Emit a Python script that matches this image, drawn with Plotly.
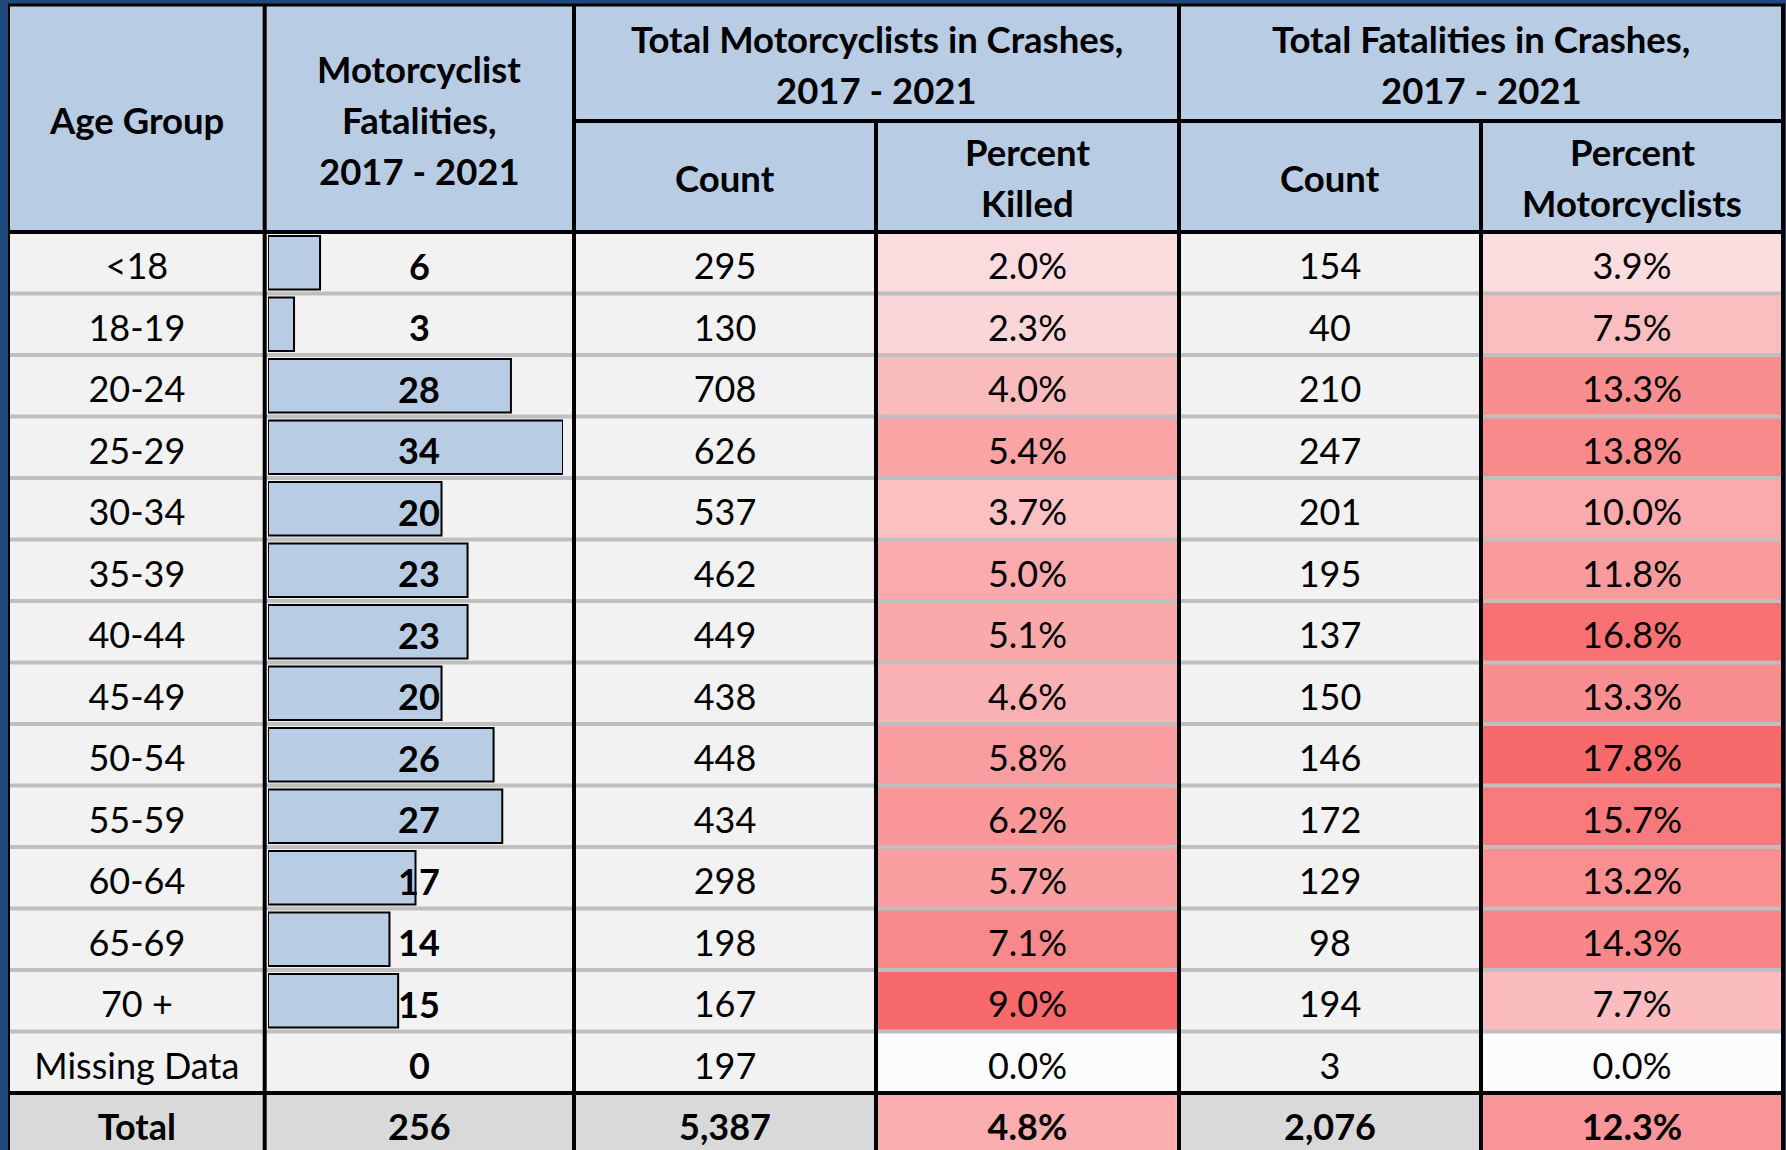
import plotly.graph_objects as go

# ---------------- data ----------------
age_groups = ["<18", "18-19", "20-24", "25-29", "30-34", "35-39", "40-44",
              "45-49", "50-54", "55-59", "60-64", "65-69", "70 +", "Missing Data"]
moto_fatalities = [6, 3, 28, 34, 20, 23, 23, 20, 26, 27, 17, 14, 15, 0]
moto_in_crashes = [295, 130, 708, 626, 537, 462, 449, 438, 448, 434, 298, 198, 167, 197]
pct_killed = [2.0, 2.3, 4.0, 5.4, 3.7, 5.0, 5.1, 4.6, 5.8, 6.2, 5.7, 7.1, 9.0, 0.0]
fatal_in_crashes = [154, 40, 210, 247, 201, 195, 137, 150, 146, 172, 129, 98, 194, 3]
pct_motorcyclists = [3.9, 7.5, 13.3, 13.8, 10.0, 11.8, 16.8, 13.3, 17.8, 15.7, 13.2, 14.3, 7.7, 0.0]

total_label = "Total"
total_moto_fatalities = 256
total_moto_in_crashes = 5387
total_pct_killed = 4.8
total_fatal_in_crashes = 2076
total_pct_motorcyclists = 12.3

header_age = ["Age Group"]
header_fatal = ["Motorcyclist", "Fatalities,", "2017 - 2021"]
header_group1 = ["Total Motorcyclists in Crashes,", "2017 - 2021"]
header_group2 = ["Total Fatalities in Crashes,", "2017 - 2021"]
header_count = ["Count"]
header_pct1 = ["Percent", "Killed"]
header_pct2 = ["Percent", "Motorcyclists"]

# ---------------- style / layout ----------------
W, H = 1786, 1150
FONT = "Lato"
FS = 36
FS_HEAD = 36.5
DARK_BLUE = "#1F497D"
HEAD_FILL = "#B8CCE4"
BODY_FILL = "#F2F2F2"
TOTAL_FILL = "#D9D9D9"
GRID_GREY = "#BFBFBF"
HEAT_SCALE = [[0, "#FCFCFF"], [1, "#F8696B"]]

edges = [9, 264.7, 574, 876, 1179, 1481, 1783]
top = 5
mid_head = 121
head_bot = 232
n = len(age_groups)
row_h = (1093 - head_bot) / n
total_top = head_bot + n * row_h
total_bot = total_top + row_h
text_dy = 7.5
ann_dy = 3

centers_x = [(edges[i] + edges[i + 1]) / 2 for i in range(6)]
row_c = [head_bot + (i + 0.5) * row_h for i in range(n)]
total_c = total_top + row_h / 2

fig = go.Figure()

# heat-map columns (include total row)
for col, vals, tot in [(3, pct_killed, total_pct_killed), (5, pct_motorcyclists, total_pct_motorcyclists)]:
    allv = vals + [tot]
    fig.add_trace(go.Heatmap(
        z=[[v] for v in allv],
        x0=centers_x[col], dx=edges[col + 1] - edges[col],
        y0=head_bot + row_h / 2, dy=row_h,
        zmin=0, zmax=max(allv), colorscale=HEAT_SCALE,
        showscale=False, hoverinfo="skip"))

# data bars
fig.add_trace(go.Bar(
    x=[v if v > 0 else None for v in moto_fatalities], y=row_c,
    orientation="h", width=row_h - 8,
    marker=dict(color=HEAD_FILL, line=dict(color="black", width=2)),
    xaxis="x2", yaxis="y", hoverinfo="skip", showlegend=False))


def fmt_int(v):
    return f"{v:,}"


def fmt_pct(v):
    return f"{v:.1f}%"


def text_trace(x, ys, texts, bold=False):
    return go.Scatter(
        x=[x] * len(ys), y=[y + text_dy for y in ys], mode="text",
        text=[f"<b>{t}</b>" if bold else t for t in texts],
        textposition="middle center",
        textfont=dict(family=FONT, size=FS, color="black"),
        hoverinfo="skip", showlegend=False, xaxis="x", yaxis="y")


fig.add_trace(text_trace(centers_x[0], row_c, age_groups))
fig.add_trace(text_trace(centers_x[2], row_c, [fmt_int(v) for v in moto_in_crashes]))
fig.add_trace(text_trace(centers_x[3], row_c, [fmt_pct(v) for v in pct_killed]))
fig.add_trace(text_trace(centers_x[4], row_c, [fmt_int(v) for v in fatal_in_crashes]))
fig.add_trace(text_trace(centers_x[5], row_c, [fmt_pct(v) for v in pct_motorcyclists]))

totals = [total_label, fmt_int(total_moto_fatalities), fmt_int(total_moto_in_crashes),
          fmt_pct(total_pct_killed), fmt_int(total_fatal_in_crashes), fmt_pct(total_pct_motorcyclists)]
for i, t in enumerate(totals):
    fig.add_trace(text_trace(centers_x[i], [total_c], [t], bold=True))

# ---------------- shapes ----------------
shapes = []


def rect(x0, x1, y0, y1, color):
    shapes.append(dict(type="rect", xref="x", yref="y", x0=x0, x1=x1, y0=y0, y1=y1,
                       fillcolor=color, line=dict(width=0), layer="below"))


def line(x0, x1, y0, y1, color, w):
    shapes.append(dict(type="line", xref="x", yref="y", x0=x0, x1=x1, y0=y0, y1=y1,
                       line=dict(color=color, width=w), layer="above"))


rect(edges[0], edges[-1], top, head_bot, HEAD_FILL)
rect(edges[0], edges[-1], head_bot, total_top, BODY_FILL)
rect(edges[0], edges[-1], total_top, total_bot + 20, TOTAL_FILL)

for k in range(1, n):
    y = head_bot + k * row_h
    line(edges[0], edges[-1], y, y, GRID_GREY, 4)

line(edges[0], edges[0], top, H + 20, "black", 2)
for i in [1, 2, 4, 6]:
    line(edges[i], edges[i], top, H + 20, "black", 4)
for i in [3, 5]:
    line(edges[i], edges[i], mid_head, H + 20, "black", 4)
line(edges[0] - 1, edges[-1] + 2, top, top, "black", 3)
line(edges[2], edges[-1], mid_head, mid_head, "black", 4)
line(edges[0], edges[-1] + 2, head_bot, head_bot, "black", 4)
line(edges[0], edges[-1] + 2, total_top, total_top, "black", 4)

# ---------------- annotations ----------------
annotations = []
line_gap = 51


def header(x, yc, lines):
    y0 = yc - (len(lines) - 1) * line_gap / 2
    for j, t in enumerate(lines):
        annotations.append(dict(
            x=x, y=y0 + j * line_gap + 1, xref="x", yref="y", text=t, showarrow=False,
            xanchor="center", yanchor="middle",
            font=dict(family=FONT, size=FS_HEAD, color="black", weight="bold")))


header(centers_x[0], (top + head_bot) / 2, header_age)
header(centers_x[1], (top + head_bot) / 2, header_fatal)
header((edges[2] + edges[4]) / 2, (top + mid_head) / 2, header_group1)
header((edges[4] + edges[6]) / 2, (top + mid_head) / 2, header_group2)
header(centers_x[2], (mid_head + head_bot) / 2, header_count)
header(centers_x[3], (mid_head + head_bot) / 2, header_pct1)
header(centers_x[4], (mid_head + head_bot) / 2, header_count)
header(centers_x[5], (mid_head + head_bot) / 2, header_pct2)

# bar-column value labels drawn on top of the bars
for y, v in zip(row_c, moto_fatalities):
    annotations.append(dict(
        x=centers_x[1], y=y + ann_dy, xref="x", yref="y", text=fmt_int(v), showarrow=False,
        xanchor="center", yanchor="middle",
        font=dict(family=FONT, size=FS, color="black", weight="bold")))

fig.update_layout(
    width=W, height=H, margin=dict(l=0, r=0, t=0, b=0),
    paper_bgcolor=DARK_BLUE, plot_bgcolor="rgba(0,0,0,0)",
    showlegend=False, shapes=shapes, annotations=annotations,
    xaxis=dict(range=[0, W], visible=False, fixedrange=True),
    xaxis2=dict(domain=[268 / W, 563 / W], range=[0, max(moto_fatalities)],
                visible=False, anchor="y", fixedrange=True),
    yaxis=dict(range=[H, 0], visible=False, fixedrange=True),
)

fig.write_html("out.html", config={"displayModeBar": False},
               post_script="document.body.style.margin='0';")
